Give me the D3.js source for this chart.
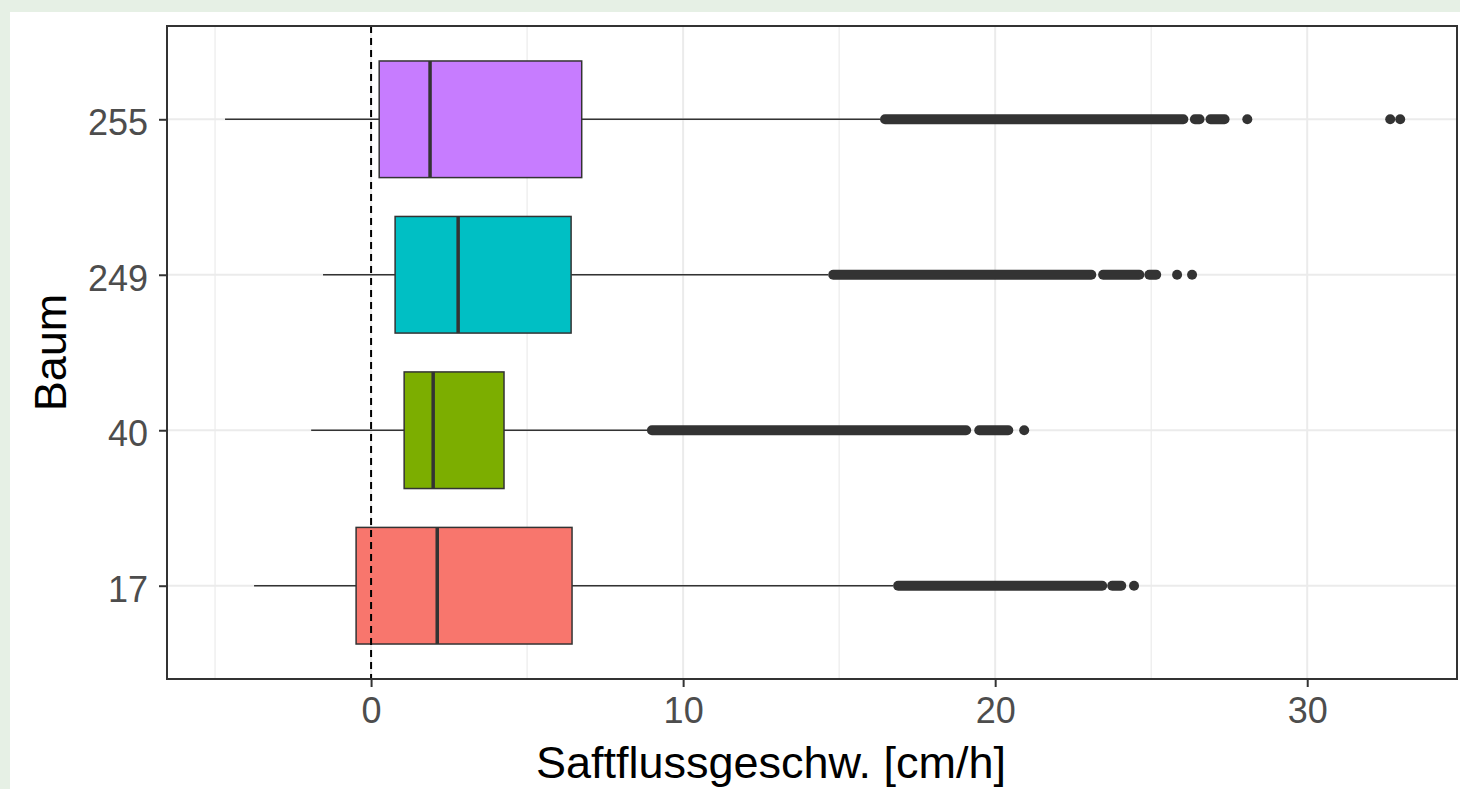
<!DOCTYPE html>
<html>
<head>
<meta charset="utf-8">
<script src="https://cdnjs.cloudflare.com/ajax/libs/d3/7.8.5/d3.min.js"></script>
<style>
  html, body { margin: 0; padding: 0; background: #e6f0e5; }
  svg { display: block; }
</style>
</head>
<body>
<div id="canvas"></div>
<script>
(function (d3) {
  // values, order: 17, 40, 249, 255
  var trees = ['17', '40', '249', '255'];
  var fills = ['#F8766D', '#7CAE00', '#00BFC4', '#C77CFF'];
  var lowerWhisker = [-3.75, -1.92, -1.54, -4.68];
  var q1 = [-0.48, 1.06, 0.77, 0.26];
  var median = [2.12, 1.99, 2.79, 1.89];
  var q3 = [6.44, 4.26, 6.41, 6.75];
  var upperWhisker = [16.73, 8.85, 14.65, 16.31];
  // outliers are so dense that they merge into bands: [first, last]
  var outlierRuns = [
    [[16.89, 23.43], [23.75, 24.04]],
    [[9.0, 19.07], [19.49, 20.42]],
    [[14.81, 23.08], [23.46, 24.62], [24.94, 25.16]],
    [[16.47, 26.03], [26.4, 26.55], [26.9, 27.35]]
  ];
  var outlierPoints = [
    [24.45],
    [20.93],
    [25.83, 26.31],
    [28.08, 32.66, 32.98]
  ];
  var xTicks = [0, 10, 20, 30];
  var xMinor = [-5, 5, 15, 25];

  var width = 1460, height = 789;
  var panel = { left: 167, right: 1457, top: 26, bottom: 679 };
  var pointR = 5;
  var ink = '#333333';
  var font = '"Liberation Sans", Arial, sans-serif';

  var svg, x, y, boxH;

  var model = trees.map(function (t, i) {
    return {
      tree: t, fill: fills[i], lo: lowerWhisker[i], q1: q1[i], med: median[i],
      q3: q3[i], hi: upperWhisker[i], runs: outlierRuns[i], points: outlierPoints[i]
    };
  });

  init();

  function init () {
    createSvg();
    createScales();
    createGrid();
    createBoxes();
    createZeroLine();
    createAxes();
    createTitles();
  }

  function createSvg () {
    svg = d3.select('#canvas')
      .append('svg')
      .attr('width', width)
      .attr('height', height);

    svg.append('rect')
      .attr('width', width).attr('height', height)
      .attr('fill', '#e6f0e5');
    svg.append('rect')
      .attr('x', 10).attr('y', 12)
      .attr('width', width - 10).attr('height', height - 12)
      .attr('fill', '#ffffff');
  }

  function createScales () {
    x = d3.scaleLinear()
      .domain([-6.54, 34.8])
      .range([panel.left, panel.right]);
    y = d3.scalePoint()
      .domain(trees.slice().reverse())
      .range([panel.top, panel.bottom])
      .padding(0.6);
    boxH = y.step() * 0.75;
  }

  function createGrid () {
    var g = svg.append('g');
    g.selectAll('line.minor')
      .data(xMinor)
      .enter()
      .append('line')
      .attr('x1', x).attr('x2', x)
      .attr('y1', panel.top).attr('y2', panel.bottom)
      .attr('stroke', '#ebebeb')
      .attr('stroke-width', 1.2);
    g.selectAll('line.major')
      .data(xTicks)
      .enter()
      .append('line')
      .attr('x1', x).attr('x2', x)
      .attr('y1', panel.top).attr('y2', panel.bottom)
      .attr('stroke', '#ebebeb')
      .attr('stroke-width', 2);
    g.selectAll('line.ymajor')
      .data(trees)
      .enter()
      .append('line')
      .attr('x1', panel.left).attr('x2', panel.right)
      .attr('y1', y).attr('y2', y)
      .attr('stroke', '#ebebeb')
      .attr('stroke-width', 2);
  }

  function createBoxes () {
    var groups = svg.append('g')
      .selectAll('g')
      .data(model)
      .enter()
      .append('g')
      .attr('transform', function (d) { return 'translate(0,' + y(d.tree) + ')'; });

    // whiskers
    groups.append('line')
      .attr('x1', function (d) { return x(d.lo); })
      .attr('x2', function (d) { return x(d.q1); })
      .attr('stroke', ink).attr('stroke-width', 1.5);
    groups.append('line')
      .attr('x1', function (d) { return x(d.q3); })
      .attr('x2', function (d) { return x(d.hi); })
      .attr('stroke', ink).attr('stroke-width', 1.5);

    groups.append('rect')
      .attr('x', function (d) { return x(d.q1); })
      .attr('y', -boxH / 2)
      .attr('width', function (d) { return x(d.q3) - x(d.q1); })
      .attr('height', boxH)
      .attr('fill', function (d) { return d.fill; })
      .attr('stroke', ink)
      .attr('stroke-width', 1.5);

    groups.append('line')
      .attr('x1', function (d) { return x(d.med); })
      .attr('x2', function (d) { return x(d.med); })
      .attr('y1', -boxH / 2).attr('y2', boxH / 2)
      .attr('stroke', ink).attr('stroke-width', 3.5);

    groups.each(function (d) {
      var g = d3.select(this);
      g.selectAll('line.run')
        .data(d.runs)
        .enter()
        .append('line')
        .attr('class', 'run')
        .attr('x1', function (r) { return x(r[0]); })
        .attr('x2', function (r) { return x(r[1]); })
        .attr('stroke', ink)
        .attr('stroke-width', pointR * 2)
        .attr('stroke-linecap', 'round');
      g.selectAll('circle')
        .data(d.points)
        .enter()
        .append('circle')
        .attr('cx', x)
        .attr('cy', 0)
        .attr('r', pointR)
        .attr('fill', ink);
    });
  }

  function createZeroLine () {
    svg.append('line')
      .attr('x1', x(0)).attr('x2', x(0))
      .attr('y1', panel.top).attr('y2', panel.bottom)
      .attr('stroke', '#000000')
      .attr('stroke-width', 2)
      .attr('stroke-dasharray', '7,5');
  }

  function createAxes () {
    svg.append('rect')
      .attr('x', panel.left).attr('y', panel.top)
      .attr('width', panel.right - panel.left)
      .attr('height', panel.bottom - panel.top)
      .attr('fill', 'none')
      .attr('stroke', ink)
      .attr('stroke-width', 2);

    var xAxis = svg.append('g')
      .attr('transform', 'translate(0,' + panel.bottom + ')')
      .call(d3.axisBottom(x).tickValues(xTicks).tickSize(8).tickPadding(10).tickFormat(d3.format('d')));
    var yAxis = svg.append('g')
      .attr('transform', 'translate(' + panel.left + ',0)')
      .call(d3.axisLeft(y).tickSize(8).tickPadding(11));

    [xAxis, yAxis].forEach(function (a) {
      a.select('.domain').remove();
      a.selectAll('.tick line').attr('stroke', ink).attr('stroke-width', 2);
      a.selectAll('.tick text')
        .attr('fill', '#4d4d4d')
        .style('font-family', font)
        .style('font-size', '36px');
    });
    yAxis.selectAll('.tick text').attr('dy', '0.43em');
  }

  function createTitles () {
    svg.append('text')
      .attr('x', 771)
      .attr('y', 778)
      .attr('text-anchor', 'middle')
      .style('font-family', font)
      .style('font-size', '45px')
      .attr('fill', '#000000')
      .text('Saftflussgeschw. [cm/h]');

    svg.append('text')
      .attr('transform', 'translate(66,' + ((panel.top + panel.bottom) / 2) + ') rotate(-90)')
      .attr('text-anchor', 'middle')
      .style('font-family', font)
      .style('font-size', '45px')
      .attr('fill', '#000000')
      .text('Baum');
  }
})(window.d3);
</script>
</body>
</html>
